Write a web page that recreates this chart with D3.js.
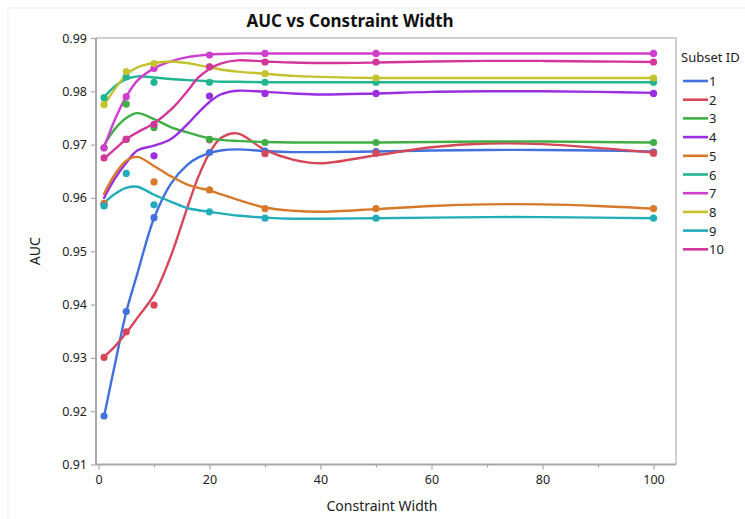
<!DOCTYPE html>
<html>
<head>
<meta charset="utf-8">
<script src="https://cdn.jsdelivr.net/npm/d3@7"></script>
<style>
  html, body { margin: 0; padding: 0; background: #fff; }
  svg { display: block; font-family: "Noto Sans", "Open Sans", sans-serif; }
</style>
</head>
<body>
<svg id="chart" width="745" height="519"></svg>
<script>
// Constraint widths at which AUC was measured
const widths = [1, 5, 10, 20, 30, 50, 100];

// Measured AUC per subset (one value per width)
const auc1  = [0.9191, 0.9387, 0.9563, 0.9685, 0.9688, 0.9687, 0.9686];
const auc2  = [0.9301, 0.9349, 0.9399, 0.9709, 0.9683, 0.9684, 0.9684];
const auc3  = [0.9694, 0.9776, 0.9732, 0.9710, 0.9704, 0.9704, 0.9704];
const auc4  = [0.9588, 0.9710, 0.9679, 0.9791, 0.9796, 0.9796, 0.9796];
const auc5  = [0.9590, 0.9710, 0.9630, 0.9615, 0.9580, 0.9580, 0.9580];
const auc6  = [0.9788, 0.9827, 0.9817, 0.9817, 0.9817, 0.9817, 0.9817];
const auc7  = [0.9694, 0.9790, 0.9843, 0.9868, 0.9871, 0.9871, 0.9871];
const auc8  = [0.9775, 0.9837, 0.9852, 0.9846, 0.9833, 0.9825, 0.9825];
const auc9  = [0.9585, 0.9646, 0.9587, 0.9574, 0.9562, 0.9562, 0.9562];
const auc10 = [0.9675, 0.9710, 0.9738, 0.9846, 0.9855, 0.9855, 0.9855];

// Smoother fit for each subset, sampled at these widths
const fitWidths = [1, 3, 5, 7, 10, 13, 16, 18, 20, 22, 25, 30, 35, 40, 50, 60, 70, 80, 90, 100];
const fit1  = [0.9190, 0.9290, 0.9386, 0.9458, 0.9562, 0.9626, 0.9662, 0.9676, 0.9684, 0.9689, 0.9691, 0.9688, 0.9686, 0.9686, 0.9687, 0.9689, 0.9690, 0.9690, 0.9689, 0.9687];
const fit2  = [0.9302, 0.9322, 0.9347, 0.9375, 0.9418, 0.9490, 0.9582, 0.9640, 0.9684, 0.9712, 0.9721, 0.9690, 0.9672, 0.9665, 0.9680, 0.9695, 0.9702, 0.9701, 0.9694, 0.9685];
const fit3  = [0.9699, 0.9730, 0.9750, 0.9759, 0.9748, 0.9733, 0.9723, 0.9717, 0.9712, 0.9709, 0.9707, 0.9705, 0.9704, 0.9704, 0.9704, 0.9705, 0.9706, 0.9706, 0.9705, 0.9704];
const fit4  = [0.9600, 0.9637, 0.9666, 0.9689, 0.9698, 0.9710, 0.9738, 0.9760, 0.9780, 0.9794, 0.9801, 0.9799, 0.9796, 0.9794, 0.9796, 0.9799, 0.9800, 0.9800, 0.9799, 0.9797];
const fit5  = [0.9608, 0.9645, 0.9670, 0.9677, 0.9660, 0.9641, 0.9625, 0.9619, 0.9614, 0.9607, 0.9597, 0.9582, 0.9576, 0.9574, 0.9579, 0.9585, 0.9588, 0.9588, 0.9585, 0.9580];
const fit6  = [0.9789, 0.9810, 0.9823, 0.9828, 0.9826, 0.9823, 0.9821, 0.9820, 0.9819, 0.9818, 0.9818, 0.9817, 0.9817, 0.9817, 0.9817, 0.9817, 0.9817, 0.9817, 0.9817, 0.9817];
const fit7  = [0.9695, 0.9748, 0.9790, 0.9820, 0.9843, 0.9856, 0.9864, 0.9867, 0.9869, 0.9870, 0.9871, 0.9871, 0.9871, 0.9871, 0.9871, 0.9871, 0.9871, 0.9871, 0.9871, 0.9871];
const fit8  = [0.9774, 0.9805, 0.9831, 0.9845, 0.9853, 0.9856, 0.9853, 0.9849, 0.9845, 0.9841, 0.9837, 0.9833, 0.9829, 0.9827, 0.9825, 0.9825, 0.9825, 0.9825, 0.9825, 0.9825];
const fit9  = [0.9591, 0.9608, 0.9619, 0.9621, 0.9606, 0.9593, 0.9581, 0.9577, 0.9574, 0.9571, 0.9567, 0.9563, 0.9561, 0.9561, 0.9562, 0.9563, 0.9564, 0.9564, 0.9563, 0.9562];
const fit10 = [0.9674, 0.9692, 0.9710, 0.9723, 0.9740, 0.9765, 0.9800, 0.9826, 0.9842, 0.9852, 0.9858, 0.9856, 0.9854, 0.9853, 0.9854, 0.9856, 0.9857, 0.9857, 0.9856, 0.9855];

const subsetIds = ["1", "2", "3", "4", "5", "6", "7", "8", "9", "10"];
const colors = ["#4270dd", "#d7475a", "#3fae44", "#9a2ee0", "#d6792b",
                "#22b592", "#cf3fcf", "#c5c22f", "#22adb9", "#d3369b"];

const yTicks = [0.91, 0.92, 0.93, 0.94, 0.95, 0.96, 0.97, 0.98, 0.99];
const xTicks = [0, 20, 40, 60, 80, 100];
const xMinorTicks = [10, 30, 50, 70, 90];

const aucSets = [auc1, auc2, auc3, auc4, auc5, auc6, auc7, auc8, auc9, auc10];
const fitSets = [fit1, fit2, fit3, fit4, fit5, fit6, fit7, fit8, fit9, fit10];

const series = subsetIds.map((id, i) => ({
  id,
  color: colors[i],
  points: widths.map((w, j) => ({ x: w, y: aucSets[i][j] })),
  fit: fitWidths.map((w, j) => ({ x: w, y: fitSets[i][j] }))
}));

const svg = d3.select("#chart");

const plot = { left: 96, right: 676, top: 38, bottom: 464.5 };

const x = d3.scaleLinear().domain([-0.45, 104.05]).range([plot.left, plot.right]);
const y = d3.scaleLinear().domain([0.91, 0.99]).range([plot.bottom, plot.top]);

// Faint outer frame
svg.append("path")
  .attr("d", `M8,519 V8 H745`)
  .attr("fill", "none")
  .attr("stroke", "#ececec")
  .attr("stroke-width", 1);

// Plot frame (top and right)
svg.append("path")
  .attr("d", `M${plot.left},${plot.top} H${plot.right} V${plot.bottom}`)
  .attr("fill", "none")
  .attr("stroke", "#cfcfcf")
  .attr("stroke-width", 2);

// Title
svg.append("text")
  .attr("x", 350)
  .attr("y", 27)
  .attr("text-anchor", "middle")
  .attr("font-size", 17)
  .attr("font-weight", "bold")
  .attr("fill", "#111")
  .text("AUC vs Constraint Width");

// Y axis
const yAxis = d3.axisLeft(y)
  .tickValues(yTicks)
  .tickFormat(d3.format(".2f"))
  .tickSize(5)
  .tickPadding(4);
const gy = svg.append("g")
  .attr("transform", `translate(${plot.left},0)`)
  .call(yAxis);

// X axis with major and minor ticks
const xAxis = d3.axisBottom(x)
  .tickValues(xTicks)
  .tickFormat(d3.format("d"))
  .tickSize(5)
  .tickPadding(6);
const gx = svg.append("g")
  .attr("transform", `translate(0,${plot.bottom})`)
  .call(xAxis);
const gxm = svg.append("g")
  .attr("transform", `translate(0,${plot.bottom})`)
  .call(d3.axisBottom(x).tickValues(xMinorTicks).tickFormat("").tickSize(3));

[gy, gx, gxm].forEach(g => {
  g.select(".domain").attr("stroke", "#a8a8a8").attr("stroke-width", 2);
  g.selectAll(".tick line").attr("stroke", "#a8a8a8").attr("stroke-width", 1.2);
  g.selectAll(".tick text")
    .attr("font-size", 12.5)
    .attr("fill", "#222")
    .style("font-family", '"Noto Sans", "Open Sans", sans-serif');
});
gy.select(".domain").attr("d", `M0,${plot.top}V${plot.bottom}`);
gx.select(".domain").attr("d", `M${plot.left},0H${plot.right}`);
gxm.select(".domain").remove();

// Axis titles
svg.append("text")
  .attr("x", 382)
  .attr("y", 511)
  .attr("text-anchor", "middle")
  .attr("font-size", 14)
  .attr("fill", "#222")
  .text("Constraint Width");

svg.append("text")
  .attr("transform", `translate(40,${(plot.top + plot.bottom) / 2}) rotate(-90)`)
  .attr("text-anchor", "middle")
  .attr("font-size", 14)
  .attr("fill", "#222")
  .text("AUC");

// Smoother curves
const line = d3.line()
  .x(d => x(d.x))
  .y(d => y(d.y))
  .curve(d3.curveCatmullRom.alpha(0.5));

const gLines = svg.append("g");
gLines.selectAll("path")
  .data(series)
  .join("path")
  .attr("d", d => line(d.fit))
  .attr("fill", "none")
  .attr("stroke", d => d.color)
  .attr("stroke-width", 2.4)
  .attr("stroke-linejoin", "round")
  .attr("stroke-linecap", "round");

// Measured points
const gPts = svg.append("g");
series.forEach(s => {
  gPts.append("g")
    .selectAll("circle")
    .data(s.points)
    .join("circle")
    .attr("cx", d => x(d.x))
    .attr("cy", d => y(d.y))
    .attr("r", 3.6)
    .attr("fill", s.color);
});

// Legend
const legend = svg.append("g").attr("transform", "translate(681,0)");
legend.append("text")
  .attr("x", 0)
  .attr("y", 62)
  .attr("font-size", 13)
  .attr("fill", "#222")
  .text("Subset ID");

const items = legend.selectAll("g.item")
  .data(series)
  .join("g")
  .attr("class", "item")
  .attr("transform", (d, i) => `translate(0,${81 + i * 18.7})`);
items.append("line")
  .attr("x1", 2).attr("x2", 27)
  .attr("y1", 0).attr("y2", 0)
  .attr("stroke", d => d.color)
  .attr("stroke-width", 2.6);
items.append("text")
  .attr("x", 28)
  .attr("y", 5)
  .attr("font-size", 13)
  .attr("fill", "#222")
  .text(d => d.id);
</script>
</body>
</html>
